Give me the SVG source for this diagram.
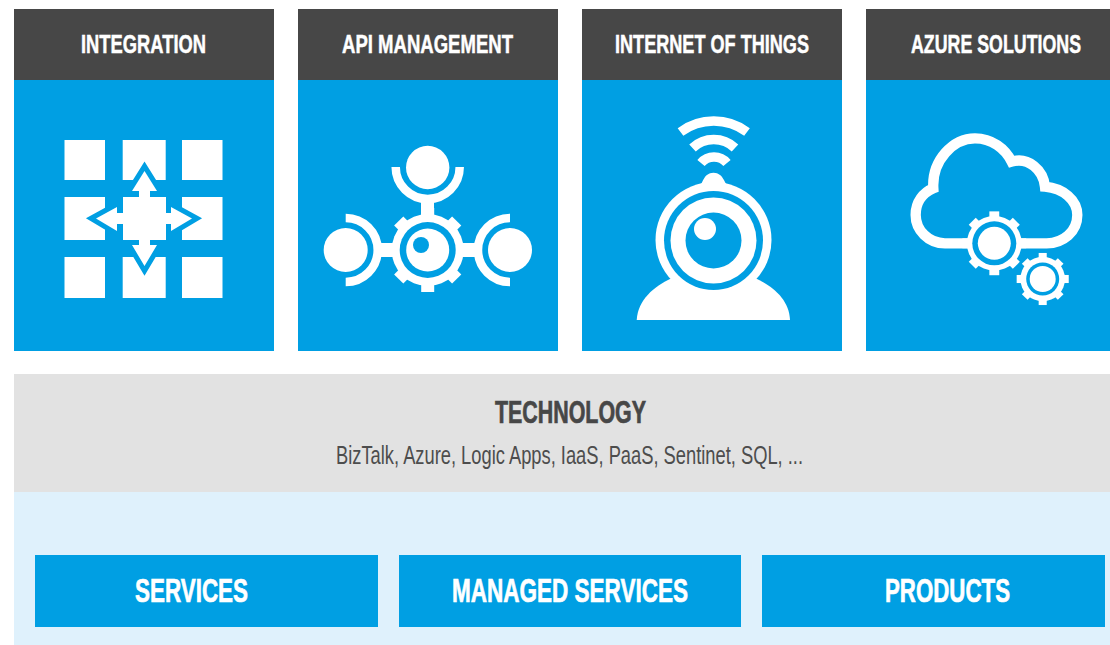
<svg xmlns="http://www.w3.org/2000/svg" xmlns:xlink="http://www.w3.org/1999/xlink" width="1110" height="645" viewBox="0 0 1110 645">
<style>
.hd{fill:#474747}
.bl{fill:#009fe3}
.w{fill:#fff}
.ln{fill:none;stroke:#fff;stroke-width:8.5}
.wf{fill:none;stroke:#fff;stroke-width:9.5}
text{font-family:"Liberation Sans Narrow","Liberation Sans",Arial,sans-serif;text-anchor:start}
.t{font-weight:700;font-size:26px;fill:#fff;stroke:#fff;stroke-width:.5}
.d{font-weight:700;font-size:31px;fill:#474747;stroke:#474747;stroke-width:.7}
.b{font-size:25px;fill:#4d4d4d}
.s{font-weight:700;font-size:33px;fill:#fff;stroke:#fff;stroke-width:.7}
</style>
<defs>
<g id="teeth"><rect x="-6.5" y="-42" width="13" height="84"/><rect x="-6.5" y="-41" width="13" height="82" transform="rotate(45)"/><rect x="-6.5" y="-42" width="13" height="84" transform="rotate(90)"/><rect x="-6.5" y="-41" width="13" height="82" transform="rotate(135)"/><circle r="36"/></g>
</defs>
<rect width="1110" height="645" fill="#fff"/>
<g id="integration">
<rect class="bl" x="14" y="80" width="260" height="271"/><rect class="hd" x="14" y="9" width="260" height="71"/>
<text class="t" x="81" y="53" textLength="125" lengthAdjust="spacingAndGlyphs">INTEGRATION</text>
<g class="w">
<rect x="64.5" y="140" width="40.5" height="40"/><rect x="122.7" y="140" width="43" height="40"/><rect x="182" y="140" width="40.5" height="40"/>
<rect x="64.5" y="197" width="40.5" height="43"/><rect x="182" y="197" width="40.5" height="43"/>
<rect x="64.5" y="257" width="40.5" height="41"/><rect x="122.7" y="257" width="43" height="41"/><rect x="182" y="257" width="40.5" height="41"/>
</g>
<path d="M144.5,171 L157,191 L150,191 L150,197 L166,197 L166,213 L171,213 L171,207 L192,218.5 L171,231 L171,224 L166,224 L166,240 L150,240 L150,245 L157,245 L144.5,266 L132,245 L139,245 L139,240 L123,240 L123,224 L117,224 L117,231 L96,218.5 L117,207 L117,213 L123,213 L123,197 L139,197 L139,191 L132,191 Z" fill="#fff" stroke="#009fe3" stroke-width="10" paint-order="stroke" stroke-linejoin="miter" stroke-miterlimit="6"/>
</g>
<g id="api-management">
<rect class="bl" x="298" y="80" width="260" height="271"/><rect class="hd" x="298" y="9" width="260" height="71"/>
<text class="t" x="342" y="53" textLength="171" lengthAdjust="spacingAndGlyphs">API MANAGEMENT</text>
<circle class="w" cx="427.7" cy="167.5" r="21.7"/>
<circle class="w" cx="345.7" cy="250" r="22"/>
<circle class="w" cx="510" cy="250" r="22"/>
<path class="ln" d="M395.7,167 A32,32 0 0 0 459.7,167"/>
<path class="ln" d="M345.7,218 A32,32 0 0 1 345.7,282"/>
<path class="ln" d="M510,218 A32,32 0 0 0 510,282"/>
<rect class="w" x="421" y="198" width="13" height="20"/>
<rect class="w" x="375" y="243" width="22" height="14"/>
<rect class="w" x="459" y="243" width="22" height="14"/>
<use xlink:href="#teeth" href="#teeth" transform="translate(427.7,250)" fill="#fff"/>
<circle class="bl" cx="427.7" cy="250" r="28"/>
<circle class="w" cx="427.7" cy="250" r="21.5"/>
<circle class="bl" cx="421" cy="245" r="8"/>
</g>
<g id="internet-of-things">
<rect class="bl" x="582" y="80" width="260" height="271"/><rect class="hd" x="582" y="9" width="260" height="71"/>
<text class="t" x="615" y="53" textLength="194" lengthAdjust="spacingAndGlyphs">INTERNET OF THINGS</text>
<path class="wf" d="M680.5,132 A56,56 0 0 1 747,132"/>
<path class="wf" d="M692.5,148 A31,31 0 0 1 735,148"/>
<path class="wf" d="M701,163 A17,17 0 0 1 727,163"/>
<path class="w" d="M699,187 C703,184 703,173 713.5,172.7 C724,173 724,184 729,187 Z"/>
<path class="w" d="M636.7,320 C638,300 653,287 672,278 L755,278 C774,287 789,300 790,320 Z"/>
<circle class="w" cx="713.5" cy="240" r="58"/>
<circle class="bl" cx="713.5" cy="240.5" r="49.5"/>
<circle class="w" cx="713.5" cy="240.5" r="43"/>
<circle class="bl" cx="713.5" cy="240.5" r="28"/>
<circle class="w" cx="705" cy="229" r="11"/>
</g>
<g id="azure-solutions">
<rect class="bl" x="866" y="80" width="244" height="271"/><rect class="hd" x="866" y="9" width="244" height="71"/>
<text class="t" transform="translate(911,53) scale(.75,1)" x="0" y="0" textLength="226.7" lengthAdjust="spacingAndGlyphs">AZURE SOLUTIONS</text>
<path transform="translate(890,120) scale(.3333)" fill="none" stroke="#fff" stroke-width="31" d="M240,370 L165,370 C115,370 77,330 77,285 C77,245 100,218 130,205 C125,120 190,55 255,55 C305,55 345,85 365,125 C415,110 460,150 465,200 C520,205 562,240 562,285 C562,335 520,370 470,370 L385,370"/>
<use xlink:href="#teeth" href="#teeth" transform="translate(994.3,243.3) scale(.76)" fill="#fff"/>
<circle class="bl" cx="994.3" cy="243.3" r="22"/>
<circle class="w" cx="994.3" cy="243.3" r="16.5"/>
<use xlink:href="#teeth" href="#teeth" transform="translate(1042.7,279) scale(.62)" fill="#fff"/>
<circle class="bl" cx="1042.7" cy="279" r="16.5"/>
<circle class="w" cx="1042.7" cy="279" r="13"/>
</g>
<g id="foundation"><rect x="14" y="492" width="1096" height="153" fill="#dff1fc"/></g>
<g id="technology">
<rect x="14" y="374" width="1096" height="118" fill="#e2e2e2"/>
<text class="d" x="495" y="423" textLength="151" lengthAdjust="spacingAndGlyphs">TECHNOLOGY</text>
<text class="b" x="336" y="464" textLength="467" lengthAdjust="spacingAndGlyphs">BizTalk, Azure, Logic Apps, IaaS, PaaS, Sentinet, SQL, ...</text>
</g>
<g id="services"><rect class="bl" x="35" y="555" width="343" height="72"/><text class="s" x="135" y="602" textLength="113" lengthAdjust="spacingAndGlyphs">SERVICES</text></g>
<g id="managed-services"><rect class="bl" x="399" y="555" width="342" height="72"/><text class="s" x="452" y="602" textLength="236" lengthAdjust="spacingAndGlyphs">MANAGED SERVICES</text></g>
<g id="products"><rect class="bl" x="762" y="555" width="343" height="72"/><text class="s" x="885" y="602" textLength="125" lengthAdjust="spacingAndGlyphs">PRODUCTS</text></g>
</svg>
